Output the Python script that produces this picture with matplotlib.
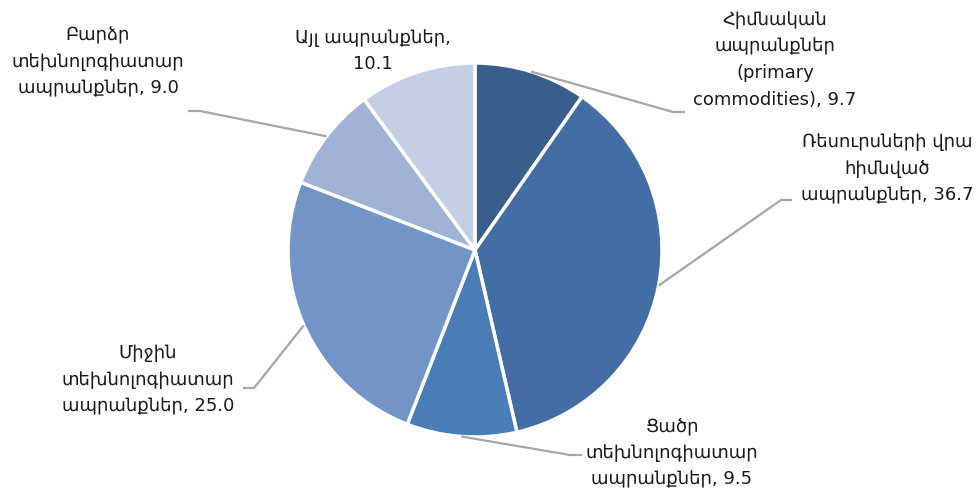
import numpy as np
import matplotlib.pyplot as plt

labels = ["Հիմնական\nապրանքներ\n(primary\ncommodities)",
          "Ռեսուրսների վրա\nհիմնված\nապրանքներ",
          "Ցածր\nտեխնոլոգիատար\nապրանքներ",
          "Միջին\nտեխնոլոգիատար\nապրանքներ",
          "Բարձր\nտեխնոլոգիատար\nապրանքներ",
          "Այլ ապրանքներ,"]
values = [9.7, 36.7, 9.5, 25.0, 9.0, 10.1]
colors = ["#3a5e8c", "#426ea3", "#4a7cb8", "#7394c6", "#a0b3d7", "#c4cee4"]

# label text centre (px, y from top) and leader elbow/end points
label_pos = [(775, 60), (887, 169), (672, 453), (148, 380), (98, 62), (373, 51)]
elbows = [((673, 112), (685, 112)), ((781, 200), (792, 200)), ((570, 455), (582, 455)),
          ((254, 388), (243, 388)), ((200, 111), (188, 111)), None]

W, H = 980, 492
cx, cy, r = 475, 250, 187

fig = plt.figure(figsize=(9.8, 4.92), dpi=100)
ax = fig.add_axes([0, 0, 1, 1])
ax.axis("off")

wedges, _ = ax.pie(values, colors=colors, startangle=90, counterclock=False,
                   center=(cx, H - cy), radius=r,
                   wedgeprops=dict(edgecolor="white", linewidth=2.5))
ax.set_xlim(0, W)
ax.set_ylim(0, H)
ax.set_aspect("equal")

for i, w in enumerate(wedges):
    ang = np.deg2rad((w.theta1 + w.theta2) / 2)
    sx = cx + r * np.cos(ang)
    sy = (H - cy) + r * np.sin(ang)
    if elbows[i] is not None:
        (ex, ey), (fx, fy) = elbows[i]
        ax.plot([sx, ex, fx], [sy, H - ey, H - fy], color="#a6a6a6", lw=1.6,
                solid_capstyle="butt", zorder=1)
    if i == 5:
        txt = labels[i] + "\n" + f"{values[i]:.1f}"
    else:
        txt = labels[i] + f", {values[i]:.1f}"
    lx, ly = label_pos[i]
    ax.text(lx, H - ly, txt, ha="center", va="center", fontsize=13,
            linespacing=1.62, color="#1a1a1a", family="DejaVu Sans")

fig.savefig("out.png", dpi=100)
